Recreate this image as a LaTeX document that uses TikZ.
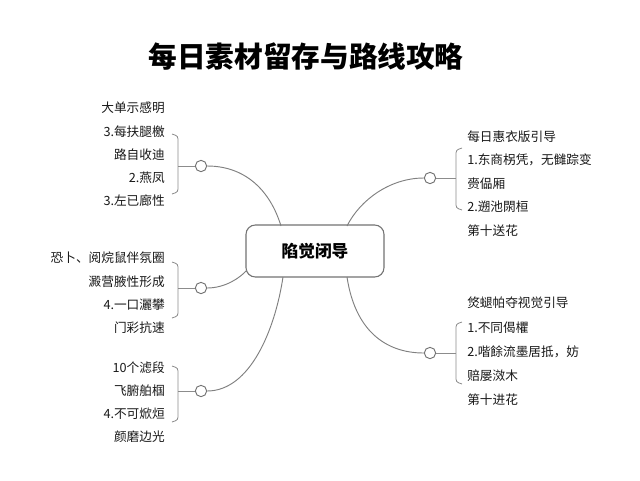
\documentclass[tikz,border=0pt]{standalone}
\usepackage{fontspec}
\setmainfont{Noto Sans CJK SC}
\begin{document}
\begin{tikzpicture}[x=0.75pt,y=-0.75pt,
  txt/.style={font=\fontsize{9.5}{11}\selectfont,inner sep=0pt,text=black!90},
  lt/.style={txt,anchor=east},
  rt/.style={txt,anchor=west},
  br/.style={draw=black!45,line width=0.6pt},
  con/.style={draw=black!50,line width=0.7pt},
  dot/.style={circle,draw=black!55,fill=white,line width=0.7pt,minimum size=8.5pt,inner sep=0pt}]
\useasboundingbox (0,0) rectangle (640,480);
\fill[white] (0,0) rectangle (640,480);
\node[font=\fontsize{21.5}{24}\selectfont\bfseries] (title) at (306,56) {每日素材留存与路线攻略};
\node[draw=black!55,line width=0.8pt,rounded corners=7pt,minimum width=103.5pt,minimum height=39pt,fill=white,font=\fontsize{12.5}{14}\selectfont\bfseries] (c) at (315,251) {陷觉闭导};
% circles
\node[dot] (l1) at (201,166) {};
\node[dot] (l2) at (201,288) {};
\node[dot] (l3) at (201,391) {};
\node[dot] (r1) at (430,178) {};
\node[dot] (r2) at (430,353) {};
% connectors
\coordinate (a1) at (281,226); \coordinate (a2) at (247,270);
\coordinate (a3) at (283,277); \coordinate (a4) at (347,226); \coordinate (a5) at (347,277);
\draw[con] (l1.east) .. controls (245,166) and (270,190) .. (a1);
\draw[con] (l2.east) .. controls (225,288) and (240,278) .. (a2);
\draw[con] (l3.east) .. controls (250,391) and (275,330) .. (a3);
\draw[con] (r1.west) .. controls (390,178) and (360,200) .. (a4);
\draw[con] (r2.west) .. controls (385,353) and (355,330) .. (a5);
% brackets left
\coordinate (b1) at (178,166); \coordinate (b2) at (178,288); \coordinate (b3) at (178,391);
\draw[br] (l1.west) -- (b1);
\draw[br] (172,134) .. controls (178,136) .. (178,142) -- (178,186) .. controls (178,192) .. (172,194);
\draw[br] (l2.west) -- (b2);
\draw[br] (172,262) .. controls (178,264) .. (178,270) -- (178,310) .. controls (178,316) .. (172,318);
\draw[br] (l3.west) -- (b3);
\draw[br] (172,366) .. controls (178,368) .. (178,374) -- (178,414) .. controls (178,420) .. (172,422);
% brackets right
\coordinate (c1) at (456,178); \coordinate (c2) at (456,353);
\draw[br] (r1.east) -- (c1);
\draw[br] (462,148) .. controls (456,150) .. (456,156) -- (456,202) .. controls (456,208) .. (462,210);
\draw[br] (r2.east) -- (c2);
\draw[br] (462,322) .. controls (456,324) .. (456,330) -- (456,376) .. controls (456,382) .. (462,384);
% left texts
\node[lt] (t11) at (165,108) {大单示感明};
\node[lt] (t12) at (165,132) {3.每扶腿檄};
\node[lt] (t13) at (165,155) {路自收迪};
\node[lt] (t14) at (165,178) {2.燕凤};
\node[lt] (t15) at (165,201) {3.左已廊性};
\node[lt] (t21) at (165,258) {恐卜、阅烷鼠伴氛圈};
\node[lt] (t22) at (165,282) {澱营腋性形成};
\node[lt] (t23) at (165,305) {4.一口灑攀};
\node[lt] (t24) at (165,328) {门彩抗速};
\node[lt] (t31) at (165,368) {10个滤段};
\node[lt] (t32) at (165,391) {飞腑舶椢};
\node[lt] (t33) at (165,414) {4.不可焮烜};
\node[lt] (t34) at (165,437) {颜磨边光};
% right texts
\node[rt] (s11) at (467,137) {每日惠衣版引导};
\node[rt] (s12) at (467,160) {1.东商柺凭，无雠踪变};
\node[rt] (s13) at (467,184) {赍偘厢};
\node[rt] (s14) at (467,207) {2.遡池閖桓};
\node[rt] (s15) at (467,231) {第十送花};
\node[rt] (s21) at (467,303) {焂螁帕夺视觉引导};
\node[rt] (s22) at (467,328) {1.不同偈欋};
\node[rt] (s23) at (467,352) {2.喈餘流墨居抵，妨};
\node[rt] (s24) at (467,376) {赔屡滧木};
\node[rt] (s25) at (467,400) {第十进花};
\end{tikzpicture}
\end{document}
